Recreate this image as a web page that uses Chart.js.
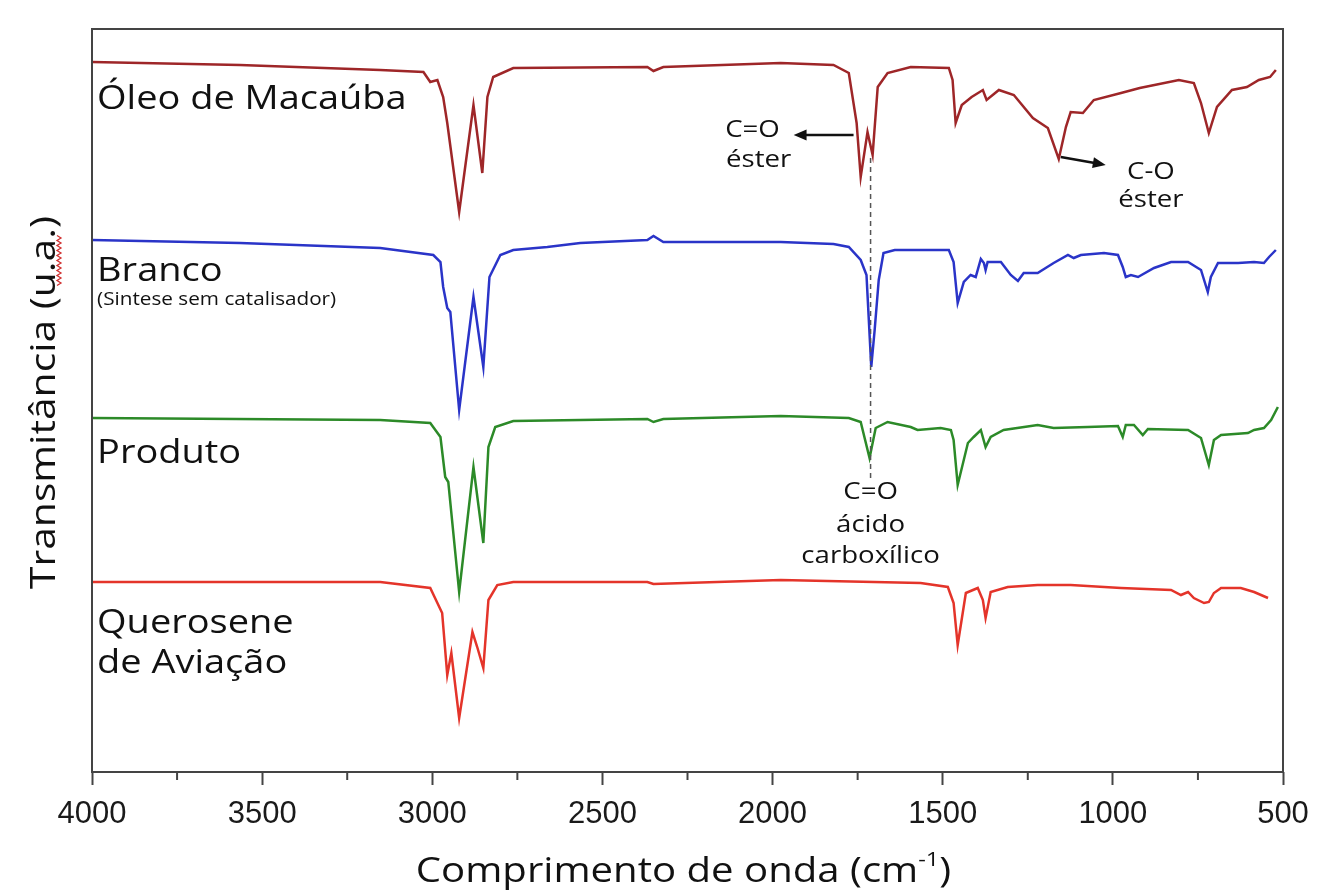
<!DOCTYPE html>
<html>
<head>
<meta charset="utf-8">
<script src="https://cdn.jsdelivr.net/npm/chart.js@4.4.0/dist/chart.umd.min.js"></script>
<style>
  html, body { margin: 0; padding: 0; background: #fff; }
</style>
</head>
<body>
<canvas id="myChart" width="1317" height="894"></canvas>
<script>
// wavenumber (cm-1) and transmittance (arbitrary units)
const wnOleo = [4000,3565,3153,3026,3006,2985,2968,2956,2921,2879,2853,2838,2821,2762,2368,2350,2321,1976,1821,1776,1753,1741,1721,1706,1691,1662,1594,1482,1471,1462,1444,1415,1382,1371,1335,1291,1235,1191,1159,1138,1124,1088,1056,976,921,806,762,741,718,694,650,606,571,538,521];
const tOleo  = [710,707,702,700,690,692,675,649,560,667,599,675,695,704,705,701,705,709,707,699,649,595,640,617,685,699,705,704,692,649,667,675,682,672,682,677,654,644,613,645,660,659,672,679,684,692,689,669,639,665,682,685,692,695,702];

const wnBranco = [4000,3565,3153,2997,2976,2968,2956,2947,2921,2879,2850,2832,2800,2762,2662,2565,2368,2350,2321,1976,1821,1776,1741,1724,1710,1700,1688,1674,1641,1482,1468,1456,1438,1418,1403,1388,1379,1374,1368,1329,1300,1279,1262,1221,1174,1132,1115,1094,1026,985,971,962,947,926,879,829,779,741,721,712,691,632,585,556,541,521];
const tBranco  = [532,529,524,517,510,485,464,460,362,475,405,495,517,522,525,529,532,536,530,530,528,525,512,497,405,442,492,519,522,522,510,469,490,497,495,513,509,502,510,510,497,491,499,499,509,517,514,517,519,517,505,495,497,495,504,510,510,502,480,495,509,509,510,509,515,522];

const wnProduto = [4000,3153,3006,2976,2962,2953,2921,2879,2850,2835,2815,2762,2368,2350,2321,1976,1776,1741,1715,1697,1662,1594,1574,1506,1476,1468,1456,1426,1409,1388,1374,1359,1321,1221,1174,1074,985,971,962,938,912,897,779,741,718,703,682,603,585,556,535,515];
const tProduto  = [354,352,349,335,295,290,180,305,229,325,345,351,353,350,353,356,354,350,314,344,350,345,342,344,342,332,287,329,335,342,325,335,342,347,344,345,346,335,347,347,337,343,342,334,307,332,337,339,342,344,352,365];

const wnQuerosene = [4000,3153,3006,2971,2956,2944,2921,2882,2868,2850,2835,2809,2762,2368,2350,1976,1565,1485,1468,1456,1432,1397,1382,1374,1359,1309,1221,1124,976,829,800,779,762,732,718,703,682,624,585,544];
const tQuerosene  = [190,190,184,159,97,119,54,140,125,104,172,187,190,190,188,192,189,185,169,127,179,184,172,154,180,185,187,187,184,182,177,180,174,169,170,179,184,184,180,174];

const xTicks = [4000,3500,3000,2500,2000,1500,1000,500];
const xMinorTicks = [3750,3250,2750,2250,1750,1250,750];

const seriesNames = ['Óleo de Macaúba','Branco','Produto','Querosene de Aviação'];

function pts(xs, ys) {
    return xs.map((x, i) => ({ x: x, y: ys[i] }));
}

// text labels placed in data units (wavenumber, transmittance)
const notes = [
    { text: 'Óleo de Macaúba', wn: 3985, t: 672, size: 33, align: 'left' },
    { text: 'Branco', wn: 3985, t: 500, size: 33, align: 'left' },
    { text: '(Sintese sem catalisador)', wn: 3985, t: 472, size: 18, align: 'left' },
    { text: 'Produto', wn: 3985, t: 318, size: 33, align: 'left' },
    { text: 'Querosene', wn: 3985, t: 148, size: 33, align: 'left' },
    { text: 'de Aviação', wn: 3985, t: 108, size: 33, align: 'left' },
    { text: 'C=O', wn: 2059, t: 642, size: 24, align: 'center' },
    { text: 'éster', wn: 2041, t: 612, size: 24, align: 'center' },
    { text: 'C-O', wn: 888, t: 600, size: 24, align: 'center' },
    { text: 'éster', wn: 888, t: 572, size: 24, align: 'center' },
    { text: 'C=O', wn: 1712, t: 280, size: 24, align: 'center' },
    { text: 'ácido', wn: 1712, t: 247, size: 24, align: 'center' },
    { text: 'carboxílico', wn: 1712, t: 216, size: 24, align: 'center' }
];
const arrows = [
    { from: [1762, 637], to: [1938, 637] },
    { from: [1153, 615], to: [1021, 607] }
];
const dashed = { wn: 1712, from: 614, to: 294 };

const FONT = '"Open Sans", "Noto Sans", sans-serif';

function drawText(ctx, str, x, y, size, align, rotate, stretch) {
    ctx.save();
    ctx.translate(x, y);
    if (rotate) ctx.rotate(-Math.PI / 2);
    ctx.scale(stretch || 1.15, 1);
    ctx.font = size + 'px ' + FONT;
    ctx.fillStyle = '#111';
    ctx.textAlign = align;
    ctx.textBaseline = 'middle';
    ctx.fillText(str, 0, 0);
    ctx.restore();
}

const decorations = {
    id: 'decorations',
    afterDatasetsDraw(chart) {
        const ctx = chart.ctx;
        const xs = chart.scales.x, ys = chart.scales.y;
        const area = chart.chartArea;

        // frame
        ctx.save();
        ctx.strokeStyle = '#444';
        ctx.lineWidth = 2;
        ctx.strokeRect(area.left, area.top, area.right - area.left, area.bottom - area.top);

        // minor ticks
        xMinorTicks.forEach(v => {
            const px = xs.getPixelForValue(v);
            ctx.beginPath();
            ctx.moveTo(px, area.bottom);
            ctx.lineTo(px, area.bottom + 8);
            ctx.stroke();
        });

        // dashed guide
        ctx.setLineDash([5, 4]);
        ctx.strokeStyle = '#555';
        ctx.lineWidth = 1.5;
        ctx.beginPath();
        ctx.moveTo(xs.getPixelForValue(dashed.wn), ys.getPixelForValue(dashed.from));
        ctx.lineTo(xs.getPixelForValue(dashed.wn), ys.getPixelForValue(dashed.to));
        ctx.stroke();
        ctx.setLineDash([]);

        // arrows
        ctx.strokeStyle = '#111';
        ctx.fillStyle = '#111';
        ctx.lineWidth = 2.5;
        arrows.forEach(a => {
            const x1 = xs.getPixelForValue(a.from[0]), y1 = ys.getPixelForValue(a.from[1]);
            const x2 = xs.getPixelForValue(a.to[0]), y2 = ys.getPixelForValue(a.to[1]);
            const ang = Math.atan2(y2 - y1, x2 - x1);
            const head = 14;
            ctx.beginPath();
            ctx.moveTo(x1, y1);
            ctx.lineTo(x2 - Math.cos(ang) * head * 0.8, y2 - Math.sin(ang) * head * 0.8);
            ctx.stroke();
            ctx.beginPath();
            ctx.moveTo(x2, y2);
            ctx.lineTo(x2 - head * Math.cos(ang - 0.4), y2 - head * Math.sin(ang - 0.4));
            ctx.lineTo(x2 - head * Math.cos(ang + 0.4), y2 - head * Math.sin(ang + 0.4));
            ctx.closePath();
            ctx.fill();
        });
        ctx.restore();

        notes.forEach(n => {
            drawText(ctx, n.text, xs.getPixelForValue(n.wn), ys.getPixelForValue(n.t), n.size, n.align, false);
        });

        // y axis title, with the red squiggle under "u.a." seen in the original
        const ty = (area.top + area.bottom) / 2 + 2;
        drawText(ctx, 'Transmitância (u.a.)', area.left - 47, ty, 34, 'center', true, 1.2);
        ctx.save();
        ctx.strokeStyle = '#d03030';
        ctx.lineWidth = 1.3;
        ctx.beginPath();
        const sx = area.left - 33;
        for (let y = ty - 167, k = 0; y <= ty - 115; y += 2.5, k++) {
            const x = sx + (k % 2 ? 2 : -2);
            if (k === 0) ctx.moveTo(x, y); else ctx.lineTo(x, y);
        }
        ctx.stroke();
        ctx.restore();

        // x axis title with superscript
        const cx = (area.left + area.right) / 2 - 4, cy = area.bottom + 100;
        const st = 1.18;
        ctx.save();
        ctx.font = '34px ' + FONT;
        const main = 'Comprimento de onda (cm';
        const w1 = ctx.measureText(main).width;
        const w3 = ctx.measureText(')').width;
        ctx.font = '20px ' + FONT;
        const w2 = ctx.measureText('-1').width;
        const total = (w1 + w2 + w3) * st;
        ctx.translate(cx - total / 2, cy);
        ctx.scale(st, 1);
        ctx.fillStyle = '#111';
        ctx.textBaseline = 'middle';
        ctx.textAlign = 'left';
        ctx.font = '34px ' + FONT;
        ctx.fillText(main, 0, 0);
        ctx.font = '20px ' + FONT;
        ctx.fillText('-1', w1, -12);
        ctx.font = '34px ' + FONT;
        ctx.fillText(')', w1 + w2, 0);
        ctx.restore();
    }
};

const ctx = document.getElementById('myChart').getContext('2d');
const myChart = new Chart(ctx, {
    type: 'line',
    data: {
        datasets: [
            { label: seriesNames[0], data: pts(wnOleo, tOleo), borderColor: 'rgb(158, 38, 40)' },
            { label: seriesNames[1], data: pts(wnBranco, tBranco), borderColor: 'rgb(42, 52, 200)' },
            { label: seriesNames[2], data: pts(wnProduto, tProduto), borderColor: 'rgb(44, 138, 40)' },
            { label: seriesNames[3], data: pts(wnQuerosene, tQuerosene), borderColor: 'rgb(228, 52, 42)' }
        ]
    },
    options: {
        responsive: false,
        animation: false,
        devicePixelRatio: 1,
        parsing: false,
        layout: { padding: { left: 0, right: 34, top: 29, bottom: 0 } },
        elements: {
            line: { borderWidth: 2.5, tension: 0, fill: false },
            point: { radius: 0 }
        },
        plugins: {
            legend: { display: false },
            tooltip: { enabled: false }
        },
        scales: {
            x: {
                type: 'linear',
                reverse: true,
                min: 500,
                max: 4000,
                afterBuildTicks: s => { s.ticks = xTicks.map(v => ({ value: v })); },
                afterFit: s => { s.height = 122; s.paddingLeft = 0; s.paddingRight = 0; },
                ticks: {
                    callback: v => String(v),
                    font: { family: 'Liberation Sans', size: 31 },
                    color: '#1a1a1a',
                    padding: 11,
                    maxRotation: 0,
                    autoSkip: false
                },
                grid: {
                    drawOnChartArea: false,
                    drawTicks: true,
                    tickLength: 13,
                    tickWidth: 2,
                    tickColor: '#444'
                },
                border: { display: false }
            },
            y: {
                min: 0,
                max: 743,
                afterFit: s => { s.width = 92; },
                ticks: { display: false },
                grid: { display: false },
                border: { display: false }
            }
        }
    },
    plugins: [decorations]
});
</script>
</body>
</html>
